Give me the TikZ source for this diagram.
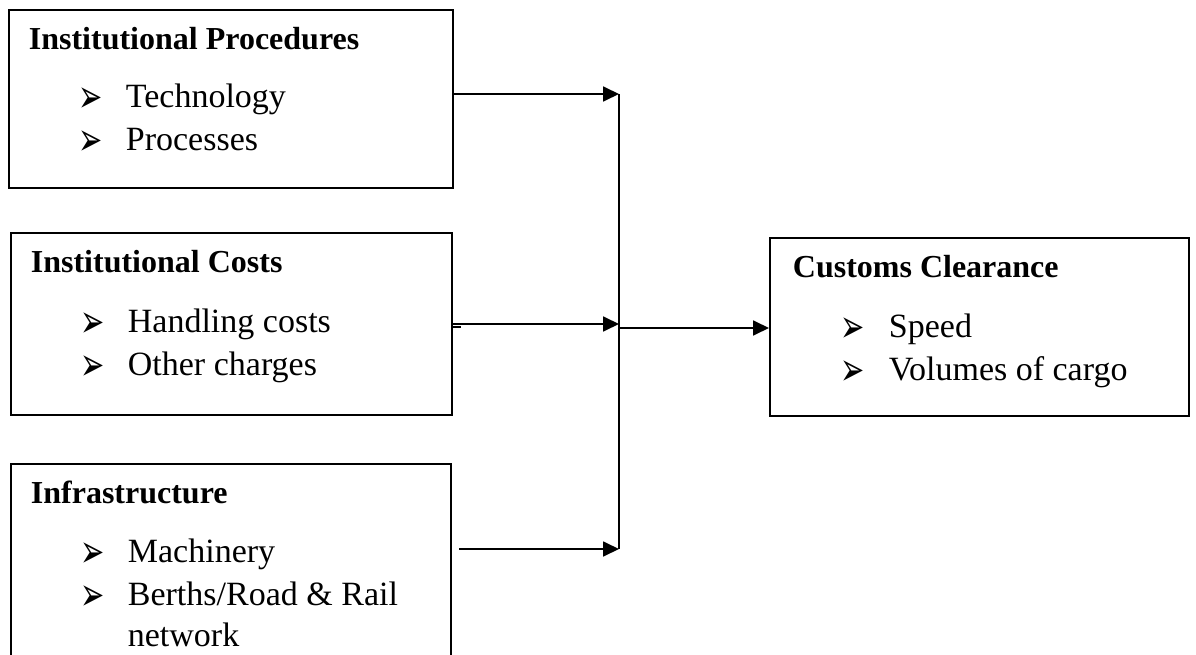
\documentclass[tikz,border=0pt]{standalone}
\usepackage{fontspec}
\usepackage{graphicx}
\setmainfont{Liberation Serif}
\newfontfamily\symfont{DejaVu Sans}
\usetikzlibrary{arrows.meta}

\begin{document}
\begin{tikzpicture}[->,x=1pt,y=-1pt,
	>={Triangle[length=16pt,width=15pt]},
	line width=1.8pt,
	box node/.style={draw,line width=2pt,anchor=north west,inner sep=0pt},
	head node/.style={anchor=base west,inner sep=0pt,font=\fontsize{32}{38}\selectfont\bfseries},
	item node/.style={anchor=base west,inner sep=0pt,font=\fontsize{34}{40}\selectfont},
	mark node/.style={anchor=base west,inner sep=0pt,font=\symfont\fontsize{29}{34}\selectfont}
]

	\useasboundingbox (0,0) rectangle (1196,655);

	\def \gap {43};
	\def \tip {\scalebox{1}[1.6]{➢}};

	\node[box node,minimum width=444pt,minimum height=178pt] (proc) at (8,9) {};
	\node[head node] (prochead) at (28,50) {Institutional Procedures};
	\foreach \txt [count=\k] in {Technology,Processes} {
		\node[mark node] (procmark\k) at (78,{70+\gap*\k}) {\tip};
		\node[item node] (procitem\k) at (125,{65+\gap*\k}) {\txt};
	}

	\node[box node,minimum width=441pt,minimum height=182pt] (cost) at (10,232) {};
	\node[head node] (costhead) at (30,272) {Institutional Costs};
	\foreach \txt [count=\k] in {Handling costs,Other charges} {
		\node[mark node] (costmark\k) at (80,{294+\gap*\k}) {\tip};
		\node[item node] (costitem\k) at (127,{289+\gap*\k}) {\txt};
	}

	\node[box node,minimum width=440pt,minimum height=230pt] (infra) at (10,463) {};
	\node[head node] (infrahead) at (30,503) {Infrastructure};
	\foreach \txt [count=\k] in {Machinery,Berths/Road \& Rail} {
		\node[mark node] (inframark\k) at (80,{524+\gap*\k}) {\tip};
		\node[item node] (infraitem\k) at (127,{519+\gap*\k}) {\txt};
	}
	\node[item node] (infraitem3) at (127,646) {network};

	\node[box node,minimum width=419pt,minimum height=178pt] (clear) at (769,237) {};
	\node[head node] (clearhead) at (792,277) {Customs Clearance};
	\foreach \txt [count=\k] in {Speed,Volumes of cargo} {
		\node[mark node] (clearmark\k) at (840,{299+\gap*\k}) {\tip};
		\node[item node] (clearitem\k) at (888,{294+\gap*\k}) {\txt};
	}

	\coordinate (bustop) at (619,94);
	\coordinate (busbot) at (619,549);
	\coordinate (busmid) at (619,328);
	\coordinate (infraout) at (459,549);

	\draw[-] (bustop) -- (busbot);
	\draw (proc.east |- bustop) -- (bustop);
	\draw (cost.east) -- (cost.east -| bustop);
	\draw[-,line width=2.5pt] ([yshift=-3pt]cost.east) -- ++(8,0);
	\draw (infraout) -- (busbot);
	\draw (busmid) -- (clear.west |- busmid);
\end{tikzpicture}
\end{document}
